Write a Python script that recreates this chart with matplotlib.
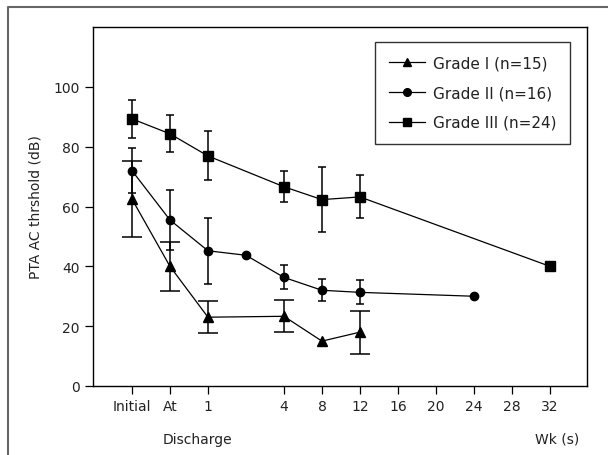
import matplotlib.pyplot as plt
from matplotlib.lines import Line2D

# x tick positions (non-linear: first three are categories)
tick_pos = [-12, -8, -4, 4, 8, 12, 16, 20, 24, 28, 32]
tick_labels = ['Initial', 'At', '1', '4', '8', '12', '16', '20', '24', '28', '32']

# Grade I (triangles); 0 error = no bar shown
g1_x = [-12, -8, -4, 4, 8, 12]
g1_y = [62.5, 40, 23, 23.3, 15, 18]
g1_err = [12.7, 8.3, 5.3, 5.3, 0, 7.2]

# Grade II (circles)
g2_x = [-12, -8, -4, 0, 4, 8, 12, 24]
g2_y = [72, 55.5, 45.2, 43.7, 36.3, 32, 31.3, 30]
g2_err = [7.5, 10, 11, 0, 4, 3.7, 4, 0]

# Grade III (squares)
g3_x = [-12, -8, -4, 4, 8, 12, 32]
g3_y = [89.3, 84.3, 76.9, 66.6, 62.3, 63.2, 40]
g3_err = [6.3, 6.2, 8.2, 5.2, 10.8, 7.2, 0]

fig = plt.figure(figsize=(6.08, 4.56), dpi=100)
ax = fig.add_axes([93 / 608, 69 / 456, 494 / 608, 359 / 456])


def bars(xs, ys, errs, cap):
    keep = [i for i, e in enumerate(errs) if e > 0]
    ax.errorbar([xs[i] for i in keep], [ys[i] for i in keep],
                yerr=[errs[i] for i in keep], fmt='none', ecolor='black',
                elinewidth=1.1, capsize=cap, capthick=1.1)


bars(g1_x, g1_y, g1_err, 7.5)
bars(g2_x, g2_y, g2_err, 3)
bars(g3_x, g3_y, g3_err, 3)

ax.plot(g1_x, g1_y, color='black', lw=0.9, marker='^', ms=7, label='Grade I (n=15)')
ax.plot(g2_x, g2_y, color='black', lw=0.9, marker='o', ms=6, label='Grade II (n=16)')
ax.plot(g3_x, g3_y, color='black', lw=0.9, marker='s', ms=6.5, label='Grade III (n=24)')

ax.set_xlim(-16.1, 35.9)
ax.set_ylim(0, 120)
ax.set_xticks(tick_pos)
ax.set_xticklabels(tick_labels)
ax.set_yticks([0, 20, 40, 60, 80, 100])
ax.tick_params(direction='out', length=6, width=0.9, labelsize=10, colors='black',
               labelcolor='#222222')
for s in ax.spines.values():
    s.set_linewidth(1.0)

ax.set_ylabel('PTA AC thrshold (dB)', fontsize=10, color='#222222', labelpad=8)
fig.text(197 / 608, 1 - 440 / 456, 'Discharge', ha='center', va='center',
         fontsize=10, color='#222222')
fig.text(557 / 608, 1 - 440 / 456, 'Wk (s)', ha='center', va='center',
         fontsize=10, color='#222222')

leg = ax.legend(loc='upper left', bbox_to_anchor=(0.571, 0.958), fontsize=11,
                frameon=True, fancybox=False, edgecolor='black', handlelength=2.4,
                borderpad=0.9, labelspacing=0.95, handletextpad=0.5,
                borderaxespad=0)
leg.get_frame().set_linewidth(1.0)
for t in leg.get_texts():
    t.set_color('#222222')
for h in leg.legend_handles:
    h.set_markersize(5.5)

# outer frame around the figure (cut at right and bottom)
fx = 7.5 / 608
fy = 1 - 7.5 / 456
fig.add_artist(Line2D([fx, fx, 1.0], [0.0, fy, fy], transform=fig.transFigure,
                      color='#666666', lw=1.5))

fig.savefig('out.png', dpi=100)
